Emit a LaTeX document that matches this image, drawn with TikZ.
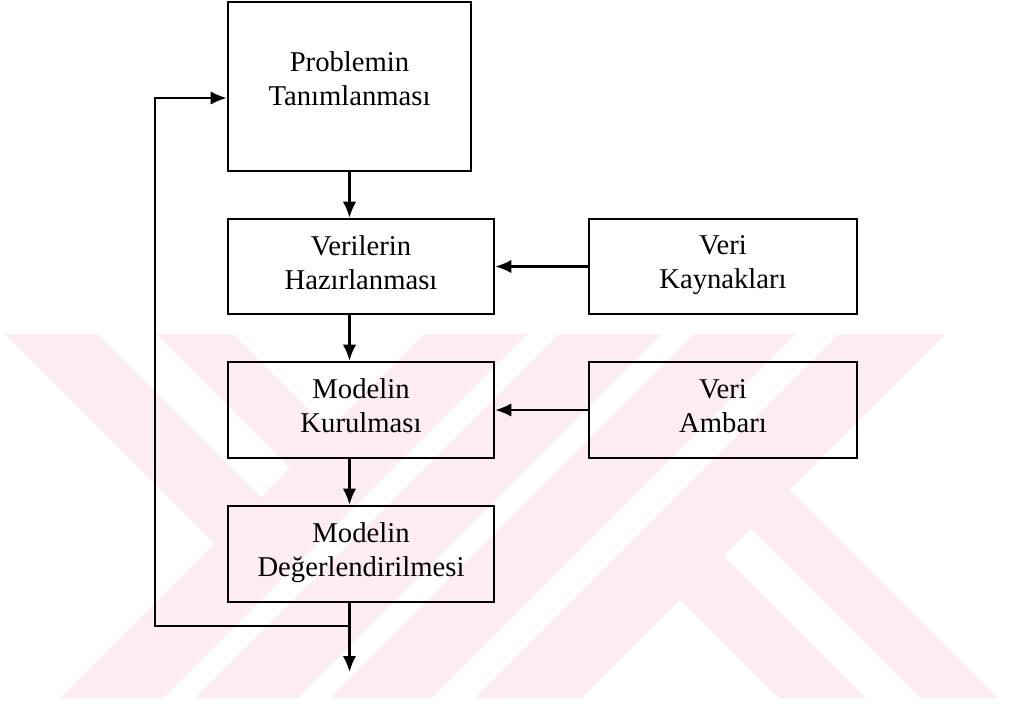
\documentclass[tikz,border=0pt]{standalone}
\usepackage{fontspec}
\setmainfont{Liberation Serif}
\usetikzlibrary{arrows.meta}
\definecolor{wmpink}{RGB}{253,237,241}
\begin{document}
\begin{tikzpicture}[x=0.75pt,y=-0.75pt,
  box/.style={draw=black, line width=1.9pt, inner sep=0pt, align=center,
    text depth=6pt, font=\fontsize{21.5pt}{25.5pt}\selectfont},
  wide/.style={minimum width=199.5pt},
  widest/.style={minimum width=201pt},
  conn/.style={draw=black, line width=1.6pt, -{Latex[length=12pt,width=10pt]}},
  band/.style={fill=wmpink, draw=none}]
\useasboundingbox (0,0) rectangle (1009,703);

% faint striped background emblem
\begin{scope}
  \clip (0,334) rectangle (1009,698);
  % rising stripes
  \path[band] (424,334) -- (527,334) -- (163,698) -- (60,698) -- cycle;
  \path[band] (559,334) -- (662,334) -- (298,698) -- (195,698) -- cycle;
  \path[band] (694,334) -- (796,334) -- (432,698) -- (330,698) -- cycle;
  \path[band] (839,334) -- (945,334) -- (581,698) -- (475,698) -- cycle;
  % falling stripes on the left
  \path[band] (5,334) -- (98,334) -- (267,503) -- (220.5,549.5) -- cycle;
  \path[band] (156,334) -- (233,334) -- (334.5,435.5) -- (296,474) -- cycle;
  % falling stripes on the right
  \path[band] (674.5,593.5) -- (718,550) -- (866,698) -- (779,698) -- cycle;
  \path[band] (745,523) -- (784,484) -- (998,698) -- (920,698) -- cycle;
\end{scope}

% process boxes
\node[box, text depth=12pt, minimum width=182.25pt, minimum height=126.75pt] (p)
  at (349.5,86.5) {Problemin\\Tanımlanması};
\node[box, wide, minimum height=71.25pt] (v) at (361,266.5)
  {Verilerin\\Hazırlanması};
\node[box, widest, minimum height=71.25pt] (s) at (723,266.5)
  {Veri\\Kaynakları};
\node[box, wide, minimum height=72pt] (k) at (361,410)
  {Modelin\\Kurulması};
\node[box, widest, minimum height=72pt] (a) at (723,410)
  {Veri\\Ambarı};
\node[box, wide, minimum height=72pt] (d) at (361,554)
  {Modelin\\Değerlendirilmesi};

% loop-back and exit points
\coordinate (j) at (349.5,626);
\coordinate (out) at (349.5,672);
\coordinate (fb) at (155,626);
\coordinate (ft) at (155,98);

% main flow
\draw[conn] (p.south) -- (p.south |- v.north);
\draw[conn] (v.south -| p.south) -- (k.north -| p.south);
\draw[conn] (k.south -| p.south) -- (d.north -| p.south);
\draw[conn] (d.south -| p.south) -- (out);

% data inputs
\draw[conn] (s.west) -- (v.east);
\draw[conn] (a.west) -- (k.east);

% feedback to the start
\draw[conn] (j) -- (fb) -- (ft) -- (ft -| p.west);
\end{tikzpicture}
\end{document}
